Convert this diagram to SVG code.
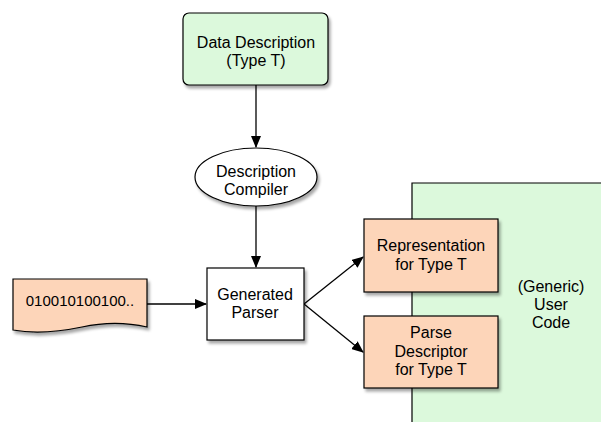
<svg xmlns="http://www.w3.org/2000/svg" width="601" height="422" viewBox="0 0 601 422">
<defs>
<filter id="sh" x="-20%" y="-20%" width="150%" height="150%">
<feGaussianBlur in="SourceAlpha" stdDeviation="1.5"/>
<feOffset dx="2" dy="3" result="b"/>
<feComponentTransfer><feFuncA type="linear" slope="0.35"/></feComponentTransfer>
<feMerge><feMergeNode/><feMergeNode in="SourceGraphic"/></feMerge>
</filter>
<marker id="ah" markerWidth="12" markerHeight="10" refX="11" refY="5" orient="auto" markerUnits="userSpaceOnUse">
<path d="M0,0 L12,5 L0,10 Z" fill="#000"/>
</marker>
</defs>
<style>
text{font-family:"Liberation Sans",Arial,sans-serif;font-size:16px;fill:#000;text-anchor:middle}
.n{stroke:#000;stroke-width:1.2}
.g{fill:#dcf9dc}
.o{fill:#fdd5b9}
.w{fill:#fff}
.c{stroke:#000;stroke-width:1.3;fill:none;marker-end:url(#ah)}
</style>
<rect width="601" height="422" fill="#fff"/>
<g id="user-code">
<rect x="412" y="183" width="200" height="250" class="g" filter="url(#sh)"/>
<path d="M412,430 V183 H610" fill="none" stroke="#000" stroke-width="1.2"/>
<text x="551" y="292">(Generic)</text>
<text x="551" y="310">User</text>
<text x="551" y="328">Code</text>
</g>
<g id="connectors">
<line x1="256" y1="85" x2="256" y2="147" class="c"/>
<line x1="256" y1="206" x2="256" y2="267" class="c"/>
<line x1="147" y1="304" x2="206" y2="304" class="c"/>
<line x1="304" y1="304" x2="363" y2="257" class="c"/>
<line x1="304" y1="304" x2="363" y2="352" class="c"/>
</g>
<g id="data-description">
<rect x="183" y="13" width="145" height="72" rx="6" class="n g" filter="url(#sh)"/>
<text x="256" y="47.5">Data Description</text>
<text x="256" y="66">(Type T)</text>
</g>
<g id="description-compiler">
<ellipse cx="256" cy="177" rx="61" ry="29" class="n w" filter="url(#sh)"/>
<text x="256" y="177">Description</text>
<text x="256" y="195">Compiler</text>
</g>
<g id="generated-parser">
<rect x="207" y="268" width="97" height="72" class="n w" filter="url(#sh)"/>
<text x="255" y="299.5">Generated</text>
<text x="255" y="318">Parser</text>
</g>
<g id="data-input">
<path d="M13,279 H147 V327 C125,322 105,322 82,327 C58,332 35,334 13,330 Z" class="n o" filter="url(#sh)"/>
<text x="80" y="305.5" style="font-size:15px">010010100100..</text>
</g>
<g id="representation">
<rect x="364" y="219" width="134" height="73" class="n o" filter="url(#sh)"/>
<text x="431" y="251">Representation</text>
<text x="431" y="269.5">for Type T</text>
</g>
<g id="parse-descriptor">
<rect x="364" y="316" width="134" height="72" class="n o" filter="url(#sh)"/>
<text x="431" y="338">Parse</text>
<text x="431" y="356.5">Descriptor</text>
<text x="431" y="375">for Type T</text>
</g>
</svg>
